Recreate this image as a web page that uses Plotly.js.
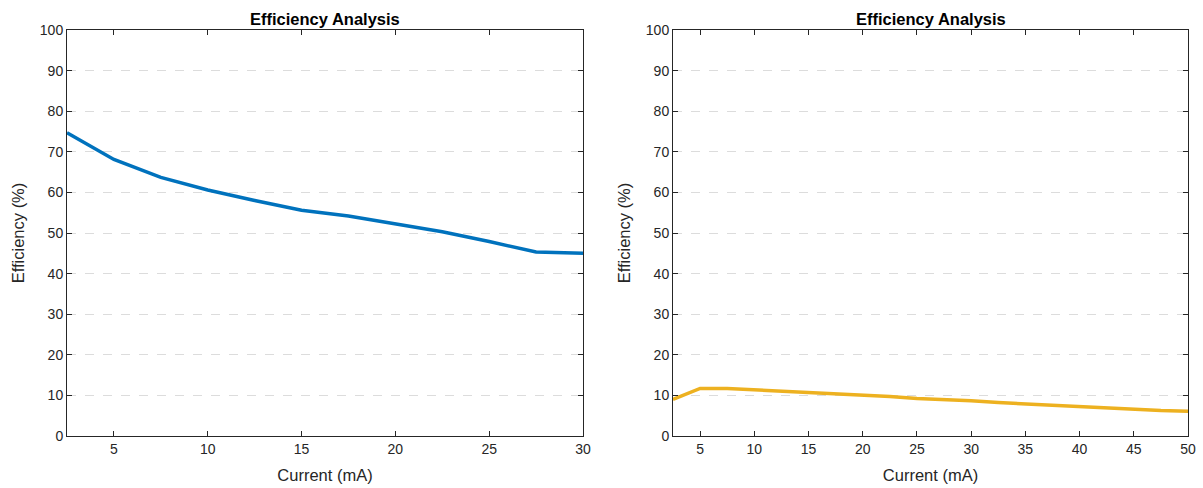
<!DOCTYPE html>
<html>
<head>
<meta charset="utf-8">
<script src="https://cdn.plot.ly/plotly-3.0.1.min.js"></script>
<style>html,body{margin:0;padding:0;background:#fff;}#chart{width:1203px;height:488px;}</style>
</head>
<body>
<div id="chart"></div>
<script>
// Left panel data
const currentLeft = [2.5, 5, 7.5, 10, 12.5, 15, 17.5, 20, 22.5, 25, 27.5, 30];
const effLeft = [74.7, 68.1, 63.7, 60.6, 58.0, 55.6, 54.2, 52.2, 50.3, 47.9, 45.3, 45.0];
// Right panel data
const currentRight = [2.5, 5, 7.5, 10, 12.5, 15, 17.5, 20, 22.5, 25, 27.5, 30, 32.5, 35, 37.5, 40, 42.5, 45, 47.5, 50];
const effRight = [9.0, 11.7, 11.7, 11.4, 11.1, 10.75, 10.5, 10.2, 9.75, 9.25, 9.0, 8.7, 8.25, 7.9, 7.5, 7.1, 6.75, 6.5, 6.25, 6.1];
const yTicks = [0, 10, 20, 30, 40, 50, 60, 70, 80, 90, 100];
const xTicksLeft = [5, 10, 15, 20, 25, 30];
const xTicksRight = [5, 10, 15, 20, 25, 30, 35, 40, 45, 50];
const panelTitle = "Efficiency Analysis";
const xLabel = "Current (mA)";
const yLabel = "Efficiency (%)";

const FONT = "Liberation Sans, Arial, Helvetica, sans-serif";
const AX = "#262626";

const traces = [
  {x: currentLeft, y: effLeft, xaxis: 'x', yaxis: 'y', mode: 'lines',
   line: {color: '#0072BD', width: 3.5}, hoverinfo: 'skip'},
  {x: currentRight, y: effRight, xaxis: 'x2', yaxis: 'y2', mode: 'lines',
   line: {color: '#EDB120', width: 3.5}, hoverinfo: 'skip'}
];

function xax(domain, range, ticks, anchor) {
  return {
    domain: domain, range: range, anchor: anchor,
    tickvals: ticks, ticktext: ticks.map(String),
    ticks: 'inside', ticklen: 5, tickwidth: 1, tickcolor: AX,
    showline: true, linecolor: AX, linewidth: 1, mirror: 'ticks',
    showgrid: false, zeroline: false,
    tickfont: {family: FONT, size: 14, color: AX},
    title: {text: xLabel, font: {family: FONT, size: 16.5, color: AX}, standoff: 13}
  };
}
function yax(anchor) {
  return {
    domain: [0, 1], range: [0, 100], anchor: anchor,
    tickvals: yTicks, ticktext: yTicks.map(String),
    ticks: 'inside', ticklen: 5, tickwidth: 1, tickcolor: AX,
    showline: true, linecolor: AX, linewidth: 1, mirror: 'ticks',
    showgrid: true, gridcolor: '#dcdcdc', griddash: 'dash', gridwidth: 1,
    zeroline: false,
    tickfont: {family: FONT, size: 14, color: AX},
    title: {text: yLabel, font: {family: FONT, size: 16.5, color: AX}, standoff: 11}
  };
}

const W = 1203, ml = 67, mr = 15;
const pw = W - ml - mr;
const d1 = [0, (583 - ml) / pw];
const d2 = [(673 - ml) / pw, 1];

const layout = {
  width: 1203, height: 488,
  margin: {l: ml, r: mr, t: 30, b: 52},
  paper_bgcolor: '#ffffff', plot_bgcolor: '#ffffff',
  showlegend: false,
  xaxis: xax(d1, [2.5, 30], xTicksLeft, 'y'),
  yaxis: yax('x'),
  xaxis2: xax(d2, [2.5, 50], xTicksRight, 'y2'),
  yaxis2: yax('x2'),
  annotations: [
    {text: '<b>' + panelTitle + '</b>', xref: 'paper', yref: 'paper',
     x: (d1[0] + d1[1]) / 2, xanchor: 'center', y: 1, yanchor: 'bottom', yshift: 0, showarrow: false,
     font: {family: FONT, size: 16.5, color: '#000'}},
    {text: '<b>' + panelTitle + '</b>', xref: 'paper', yref: 'paper',
     x: (d2[0] + d2[1]) / 2, xanchor: 'center', y: 1, yanchor: 'bottom', yshift: 0, showarrow: false,
     font: {family: FONT, size: 16.5, color: '#000'}}
  ]
};

Plotly.newPlot('chart', traces, layout, {staticPlot: true, displayModeBar: false});
</script>
</body>
</html>
